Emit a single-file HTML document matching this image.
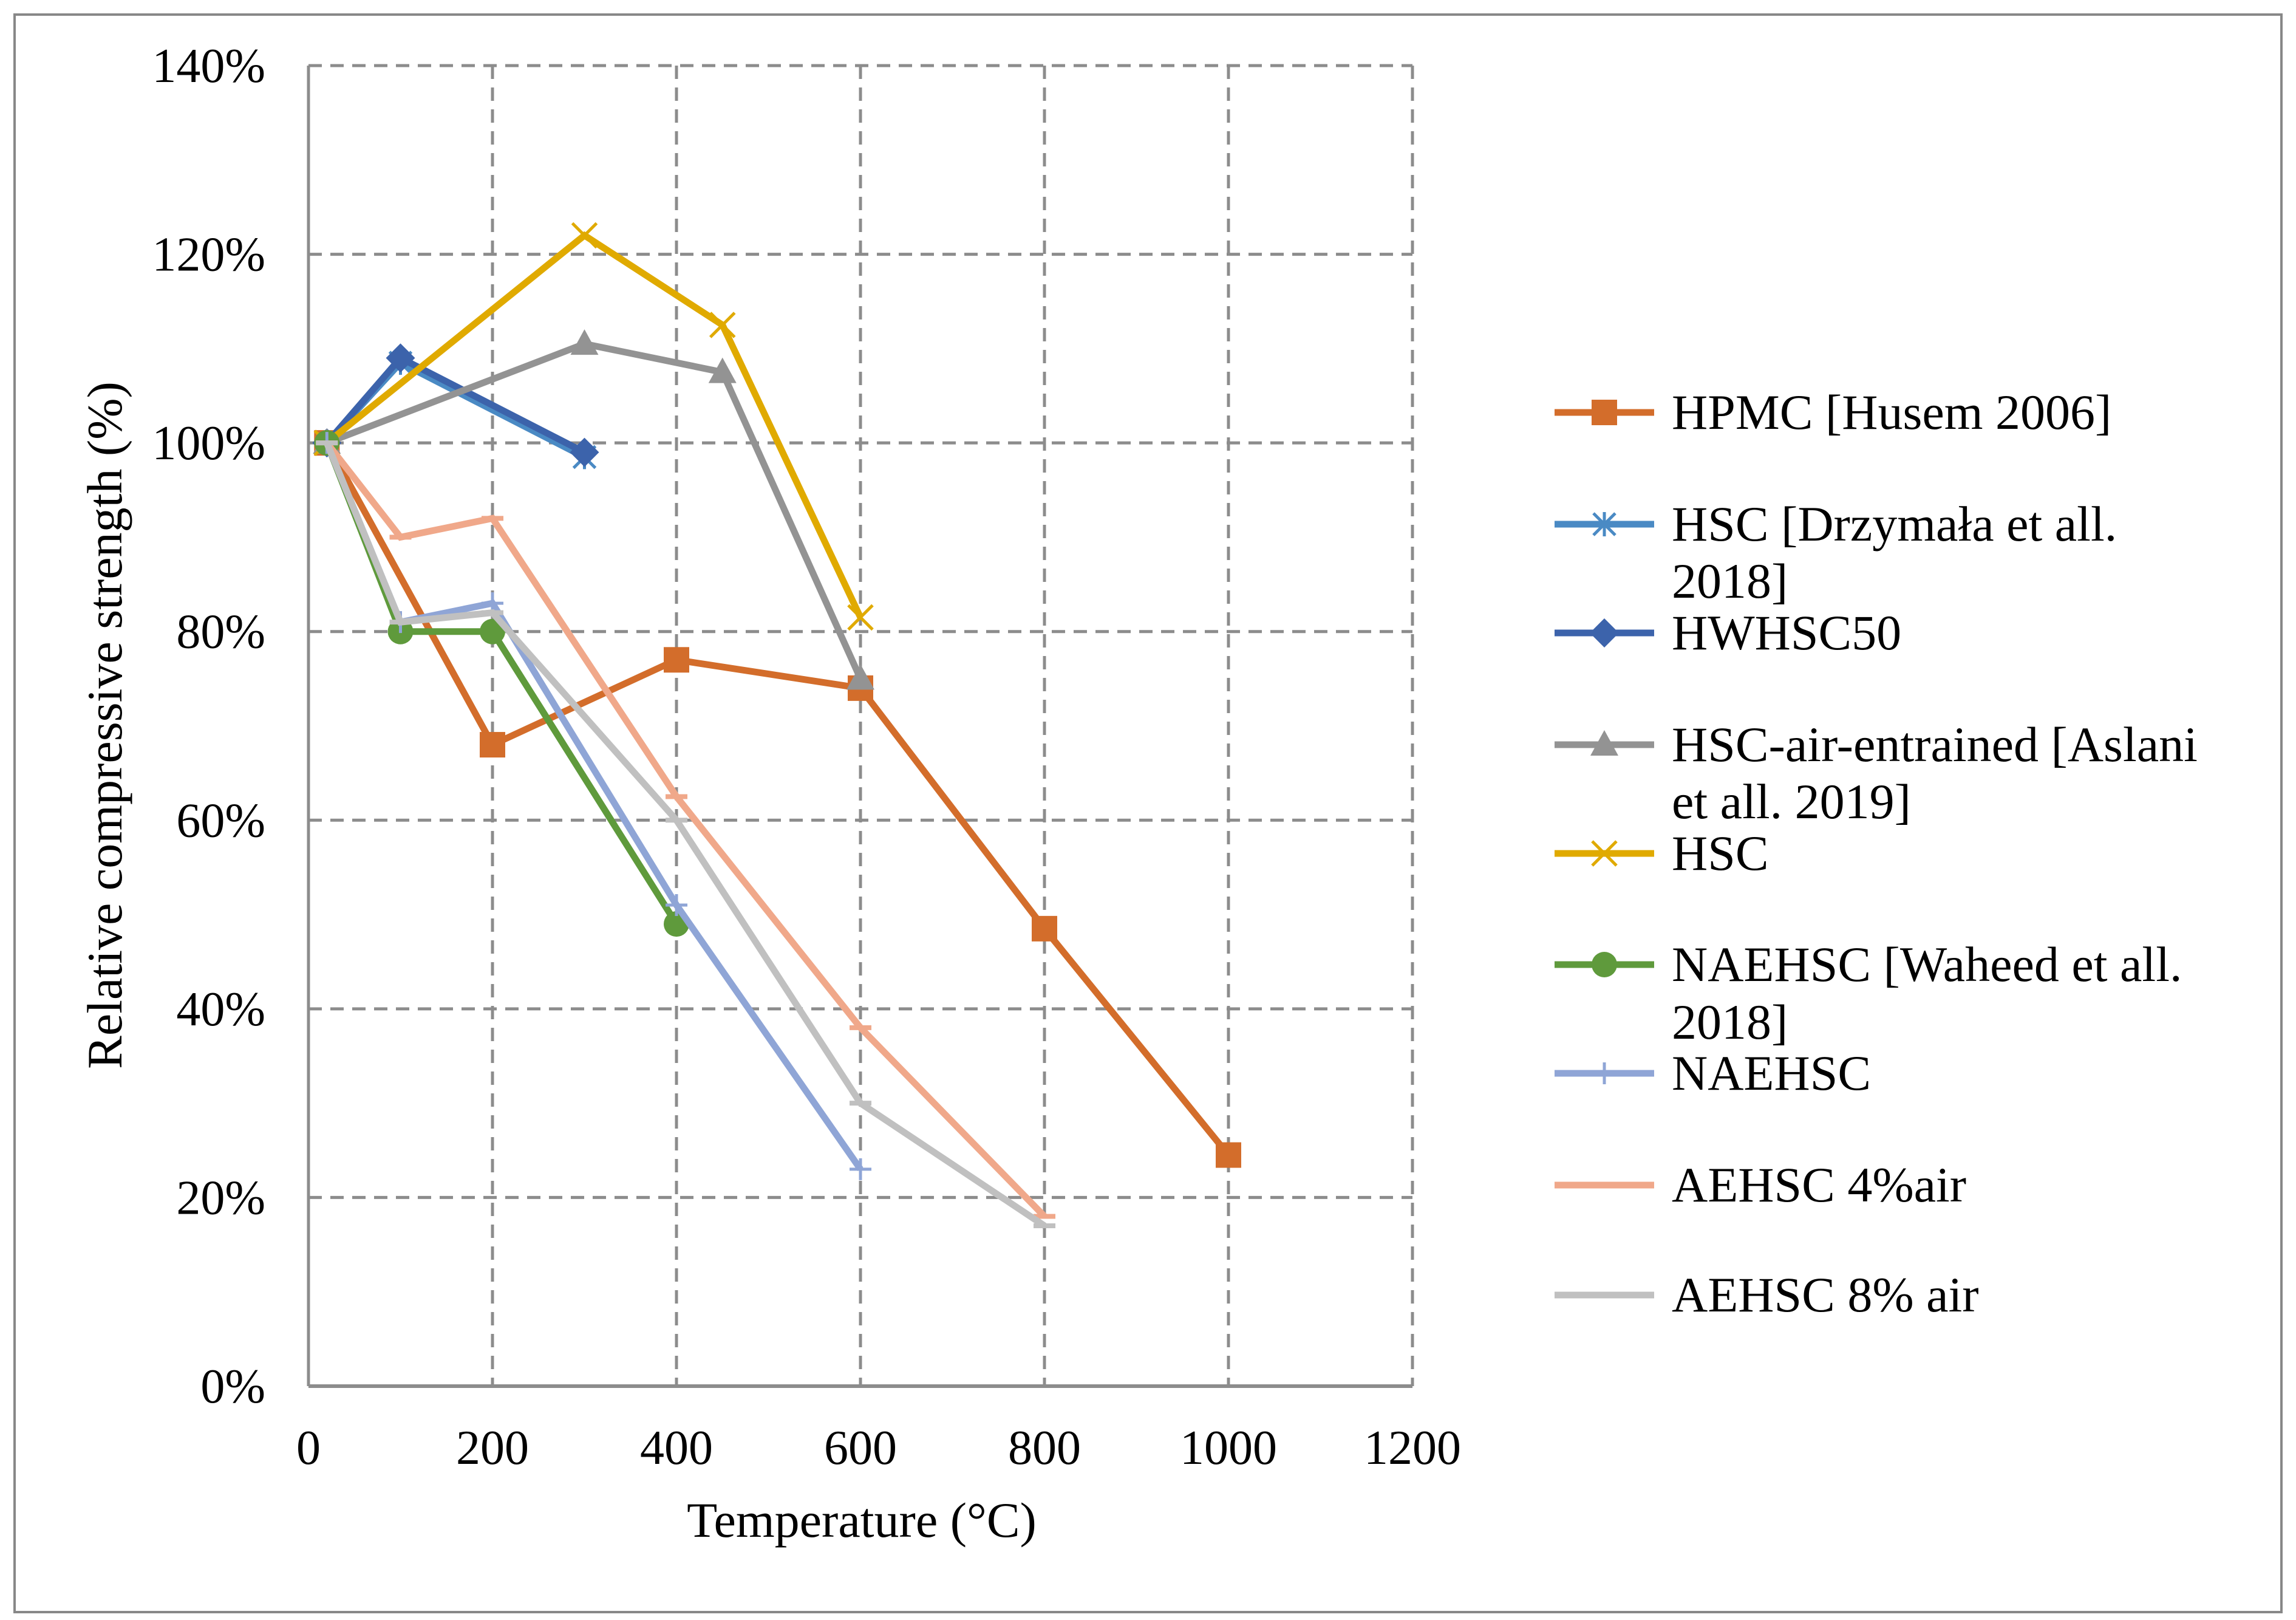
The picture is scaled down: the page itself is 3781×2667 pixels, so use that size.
<!DOCTYPE html>
<html><head><meta charset="utf-8"><style>
html,body{margin:0;padding:0;background:#fff;}
svg{display:block;}
text{font-family:"Liberation Serif",serif;fill:#000;}
</style></head><body>
<svg id="chart" width="3781" height="2667" viewBox="0 0 3781 2667">
<rect x="24" y="24" width="3733" height="2630" fill="#fff" stroke="#888" stroke-width="4"/>
<g id="grid"></g>
<g id="axes"></g>
<g id="series"></g>
<g id="legend"></g>
<text x="1419" y="2530" font-size="82" text-anchor="middle">Temperature (°C)</text>
<text transform="translate(200,1194) rotate(-90)" font-size="82" text-anchor="middle">Relative compressive strength (%)</text>
</svg>
<script>
const xTicks=[0,200,400,600,800,1000,1200];
const yTicks=[0,20,40,60,80,100,120,140];
const seriesNames=["HPMC [Husem 2006]","HSC [Drzymała et all. 2018]","HWHSC50","HSC-air-entrained [Aslani et all. 2019]","HSC","NAEHSC [Waheed et all. 2018]","NAEHSC","AEHSC 4%air","AEHSC 8% air"];
const hpmcX=[20,200,400,600,800,1000], hpmcY=[100,68,77,74,48.5,24.5];
const drzX=[20,100,300], drzY=[100,108.5,98.5];
const hwX=[20,100,300], hwY=[100,109,99];
const airX=[20,300,450,600], airY=[100,110.5,107.5,75];
const hscX=[20,300,450,600], hscY=[100,122,112.5,81.5];
const waX=[20,100,200,400], waY=[100,80,80,49];
const naX=[20,100,200,400,600], naY=[100,81,83,51,23];
const a4X=[20,100,200,400,600,800], a4Y=[100,90,92,62.5,38,18];
const a8X=[20,100,200,400,600,800], a8Y=[100,81,82,60,30,17];

const NS="http://www.w3.org/2000/svg";
const X0=508,X1=2326,Y0=2282,Y1=108;
const xs=v=>X0+(v-0)/1200*(X1-X0);
const ys=v=>Y0-(v/140)*(Y0-Y1);
function mk(tag,attrs,parent){const e=document.createElementNS(NS,tag);for(const k in attrs)e.setAttribute(k,attrs[k]);parent.appendChild(e);return e;}
const grid=document.getElementById('grid'),axes=document.getElementById('axes'),ser=document.getElementById('series'),leg=document.getElementById('legend');
xTicks.forEach(t=>{if(t===0)return;const l=mk('line',{x1:xs(t),x2:xs(t),y1:Y1,y2:Y0,stroke:'#8c8c8c','stroke-width':5,'stroke-dasharray':'22,14'},grid);

});
yTicks.forEach(t=>{if(t===0)return;const l=mk('line',{x1:X0,x2:X1,y1:ys(t),y2:ys(t),stroke:'#8c8c8c','stroke-width':5,'stroke-dasharray':'22,14'},grid);

});
const ax1=mk('line',{x1:X0,x2:X0,y1:Y1,y2:Y0,stroke:'#8c8c8c','stroke-width':5},axes);


const ax2=mk('line',{x1:X0,x2:X1,y1:Y0,y2:Y0,stroke:'#8c8c8c','stroke-width':6},axes);


xTicks.forEach(t=>{const e=mk('text',{x:xs(t),y:2410,'font-size':80,'text-anchor':'middle'},axes);e.textContent=t;

});
yTicks.forEach(t=>{const e=mk('text',{x:437,y:ys(t)+27,'font-size':80,'text-anchor':'end'},axes);e.textContent=t+'%';

});

function marker(type,x,y,color,g){
 let e;
 if(type==='square')e=mk('rect',{x:x-21,y:y-21,width:42,height:42,fill:color},g);
 else if(type==='diamond')e=mk('path',{d:`M${x} ${y-24}L${x+24} ${y}L${x} ${y+24}L${x-24} ${y}Z`,fill:color},g);
 else if(type==='triangle')e=mk('path',{d:`M${x} ${y-24}L${x+23} ${y+18}L${x-23} ${y+18}Z`,fill:color},g);
 else if(type==='circle')e=mk('circle',{cx:x,cy:y,r:21,fill:color},g);
 else if(type==='x')e=mk('path',{d:`M${x-20} ${y-20}L${x+20} ${y+20}M${x-20} ${y+20}L${x+20} ${y-20}`,stroke:color,'stroke-width':5},g);
 else if(type==='star')e=mk('path',{d:`M${x-18} ${y-18}L${x+18} ${y+18}M${x-18} ${y+18}L${x+18} ${y-18}M${x} ${y-20}L${x} ${y+20}`,stroke:color,'stroke-width':5},g);
 else if(type==='plus')e=mk('path',{d:`M${x-18} ${y}L${x+18} ${y}M${x} ${y-18}L${x} ${y+18}`,stroke:color,'stroke-width':5},g);
 else if(type==='dash')e=mk('path',{d:`M${x-18} ${y}L${x+18} ${y}`,stroke:color,'stroke-width':8},g);
 return e;
}
const defs=[
 [hpmcX,hpmcY,'#d36d2b','square',11,'series-hpmc'],
 [drzX,drzY,'#4a8ac4','star',11,'series-hsc-drzymala'],
 [hwX,hwY,'#3c63ab','diamond',11,'series-hwhsc50'],
 [airX,airY,'#939393','triangle',11,'series-hsc-air-entrained'],
 [hscX,hscY,'#e0aa00','x',11,'series-hsc'],
 [waX,waY,'#5f9a3c','circle',11,'series-naehsc-waheed'],
 [naX,naY,'#8fa5d6','plus',11,'series-naehsc'],
 [a4X,a4Y,'#f0a88a','dash',11,'series-aehsc-4-air'],
 [a8X,a8Y,'#c0c0c0','dash',11,'series-aehsc-8-air']
];
defs.forEach(([X,Y,c,m,w,name])=>{
 const g=mk('g',{},ser);
 
 
 const pts=X.map((v,i)=>xs(v)+','+ys(Y[i])).join(' ');
 const pl=mk('polyline',{points:pts,fill:'none',stroke:c,'stroke-width':w,'stroke-linejoin':'miter'},g);
 
 
 X.forEach((v,i)=>{const e=marker(m,xs(v),ys(Y[i]),c,g);
  
  });
});
const legRows=[[679],[863,957],[1042],[1226,1320],[1405],[1588,1683],[1767],[1951],[2132]];
const legText=[["HPMC [Husem 2006]"],["HSC [Drzymała et all.","2018]"],["HWHSC50"],["HSC-air-entrained [Aslani","et all. 2019]"],["HSC"],["NAEHSC [Waheed et all.","2018]"],["NAEHSC"],["AEHSC 4%air"],["AEHSC 8% air"]];
defs.forEach(([X,Y,c,m,w,name],i)=>{
 const g=mk('g',{},leg);
 
 
 const y=legRows[i][0];
 mk('line',{x1:2560,x2:2724,y1:y,y2:y,stroke:c,'stroke-width':11},g);
 marker(m,2642,y,c,g);
 legText[i].forEach((t,j)=>{const e=mk('text',{x:2753,y:legRows[i][j]+27,'font-size':82},g);e.textContent=t;});
});
</script>
</body></html>
